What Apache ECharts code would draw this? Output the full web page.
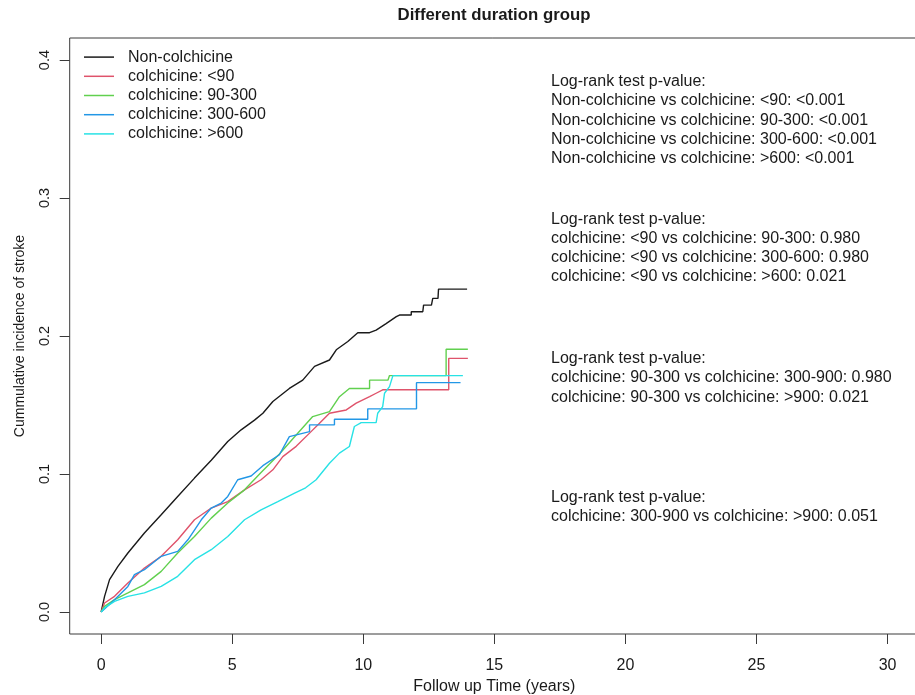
<!DOCTYPE html>
<html>
<head>
<meta charset="utf-8">
<script src="https://cdn.jsdelivr.net/npm/echarts@6/dist/echarts.min.js"></script>
<style>
html,body{margin:0;padding:0;background:#fff;}
#main{width:915px;height:695px;}
</style>
</head>
<body>
<div id="main"></div>
<script>
// ---------- data ----------
const titleText = 'Different duration group';
const xAxisTitle = 'Follow up Time (years)';
const yAxisTitle = 'Cummulative incidence of stroke';
const xTicks = [0, 5, 10, 15, 20, 25, 30];
const yTicks = [0.0, 0.1, 0.2, 0.3, 0.4];
const seriesNames = ['Non-colchicine', 'colchicine: <90', 'colchicine: 90-300', 'colchicine: 300-600', 'colchicine: >600'];

const nonColchicine = [[0,0],[0.13,0.0113],[0.32,0.0234],[0.64,0.033],[1.02,0.0427],[1.65,0.0572],[2.29,0.0704],[2.92,0.0837],[3.56,0.097],[4.2,0.110],[4.83,0.1235],[5.34,0.132],[5.85,0.139],[6.17,0.144],[6.55,0.1525],[7.18,0.162],[7.69,0.168],[8.14,0.178],[8.71,0.1826],[8.97,0.190],[9.41,0.196],[9.79,0.2024],[10.24,0.2024],[10.49,0.2043],[10.87,0.209],[11.26,0.214],[11.38,0.2152],[11.83,0.2152],[11.83,0.2176],[12.27,0.2176],[12.3,0.2224],[12.6,0.2224],[12.65,0.2273],[12.85,0.2273],[12.87,0.234],[13.96,0.234]];
const colLt90 = [[0,0],[0.13,0.0065],[0.51,0.0113],[1.02,0.021],[1.65,0.0318],[2.29,0.0403],[2.92,0.0523],[3.56,0.0668],[4.2,0.0753],[4.83,0.080],[5.47,0.0885],[6.1,0.0958],[6.55,0.103],[6.93,0.1126],[7.44,0.12],[7.95,0.1296],[8.33,0.1368],[8.71,0.144],[9.35,0.1464],[9.73,0.1513],[10.24,0.156],[10.49,0.1585],[10.74,0.161],[13.26,0.161],[13.26,0.1838],[13.99,0.1838]];
const col90to300 = [[0,0],[0.13,0.004],[0.51,0.009],[1.02,0.0138],[1.65,0.0198],[2.29,0.0294],[2.92,0.0427],[3.56,0.0547],[4.2,0.068],[4.83,0.0789],[5.47,0.0885],[6.1,0.101],[6.8,0.1145],[7.44,0.1283],[8.07,0.1416],[8.71,0.1452],[9.09,0.156],[9.47,0.162],[10.24,0.162],[10.24,0.168],[10.94,0.168],[11.0,0.1713],[13.16,0.1713],[13.16,0.1904],[13.99,0.1904]];
const col300to600 = [[0,0],[0.51,0.0089],[1.02,0.0185],[1.27,0.027],[1.65,0.0306],[2.29,0.0403],[2.92,0.0439],[3.31,0.0523],[3.82,0.0668],[4.2,0.0753],[4.58,0.0789],[4.83,0.0837],[5.21,0.0958],[5.72,0.0985],[6.17,0.106],[6.8,0.1139],[7.18,0.1271],[7.95,0.1307],[7.95,0.1356],[8.9,0.1356],[8.9,0.1397],[10.17,0.1397],[10.17,0.1472],[12.03,0.1472],[12.03,0.1662],[13.71,0.1662]];
const colGt600 = [[0,0],[0.13,0.0029],[0.51,0.0077],[1.02,0.0113],[1.65,0.0138],[2.29,0.0185],[2.92,0.0258],[3.56,0.0379],[4.2,0.0451],[4.83,0.0547],[5.47,0.0668],[6.1,0.074],[6.74,0.080],[7.38,0.0861],[7.8,0.09],[8.2,0.0958],[8.71,0.1078],[9.09,0.1151],[9.47,0.1199],[9.66,0.1344],[9.92,0.1372],[10.49,0.1372],[10.55,0.144],[10.74,0.1488],[10.81,0.1585],[11.0,0.1633],[11.13,0.1713],[13.8,0.1713]];

const annotationBlocks = [
  ['Log-rank test p-value:', 'Non-colchicine vs colchicine: <90: <0.001', 'Non-colchicine vs colchicine: 90-300: <0.001', 'Non-colchicine vs colchicine: 300-600: <0.001', 'Non-colchicine vs colchicine: >600: <0.001'],
  ['Log-rank test p-value:', 'colchicine: <90 vs colchicine: 90-300: 0.980', 'colchicine: <90 vs colchicine: 300-600: 0.980', 'colchicine: <90 vs colchicine: >600: 0.021'],
  ['Log-rank test p-value:', 'colchicine: 90-300 vs colchicine: 300-900: 0.980', 'colchicine: 90-300 vs colchicine: >900: 0.021'],
  ['Log-rank test p-value:', 'colchicine: 300-900 vs colchicine: >900: 0.051']
];

// ---------- styles ----------
const seriesData = [nonColchicine, colLt90, col90to300, col300to600, colGt600];
const colors = ['#1a1a1a', '#DF536B', '#61D04F', '#2297E6', '#28E2E5'];
const FONT = '"Liberation Sans", Arial, Helvetica, sans-serif';
const TXT = '#1a1a1a';
const AX = '#3a3a3a';
const blockTops = [72, 209.5, 349, 487.5];
const LH = 19.3;
// R-style axis range: data range extended by 4% on each side
const xPad = (xTicks[xTicks.length - 1] - xTicks[0]) * 0.04;
const yPad = (yTicks[yTicks.length - 1] - yTicks[0]) * 0.04;

const chart = echarts.init(document.getElementById('main'), null, {renderer: 'canvas'});

const graphics = [
  {type: 'text', x: 494, y: 15.5, style: {text: titleText, font: 'bold 16.8px ' + FONT, fill: TXT, textAlign: 'center', textVerticalAlign: 'middle'}}
];
annotationBlocks.forEach((lines, i) => {
  graphics.push({type: 'text', x: 551, y: blockTops[i], style: {text: lines.join('\n'), font: '16px ' + FONT, fill: TXT, lineHeight: LH, textAlign: 'left', textVerticalAlign: 'top'}});
});

const option = {
  animation: false,
  backgroundColor: '#fff',
  textStyle: {fontFamily: FONT},
  grid: {left: 69.7, top: 38, width: 849.3, height: 596, outerBoundsMode: 'none', containLabel: false,
         show: true, borderColor: AX, borderWidth: 1, backgroundColor: 'transparent'},
  xAxis: {
    type: 'value', min: xTicks[0] - xPad, max: xTicks[xTicks.length - 1] + xPad,
    axisLine: {show: false, onZero: false},
    axisTick: {show: true, length: 10, lineStyle: {color: AX, width: 1}, customValues: xTicks},
    axisLabel: {fontSize: 16, color: TXT, margin: 23.5, fontFamily: FONT, customValues: xTicks},
    splitLine: {show: false},
    name: xAxisTitle, nameLocation: 'middle', nameGap: 44,
    nameTextStyle: {fontSize: 16, color: TXT, fontFamily: FONT}
  },
  yAxis: {
    type: 'value', min: yTicks[0] - yPad, max: yTicks[yTicks.length - 1] + yPad,
    axisLine: {show: false, onZero: false},
    axisTick: {show: true, length: 10, lineStyle: {color: AX, width: 1}, customValues: yTicks},
    axisLabel: {rotate: 90, fontSize: 14.5, color: TXT, margin: 17, fontFamily: FONT, customValues: yTicks, formatter: v => v.toFixed(1)},
    splitLine: {show: false},
    name: yAxisTitle, nameLocation: 'middle', nameRotate: 90, nameGap: 42.5,
    nameTextStyle: {fontSize: 14, color: TXT, fontFamily: FONT}
  },
  legend: {
    orient: 'vertical', left: 84, top: 47.5, padding: 0, itemWidth: 30, itemHeight: 1.5, itemGap: 0,
    icon: 'rect',
    data: seriesNames,
    textStyle: {fontSize: 16, color: TXT, lineHeight: 19.2, padding: [0, 0, 0, 9], fontFamily: FONT}
  },
  series: seriesNames.map((name, i) => ({
    name: name, type: 'line', data: seriesData[i], showSymbol: false, symbol: 'none',
    color: colors[i],
    lineStyle: {color: colors[i], width: 1.4},
    silent: true, z: 2 + i
  })),
  graphic: graphics
};
chart.setOption(option);
</script>
</body>
</html>
